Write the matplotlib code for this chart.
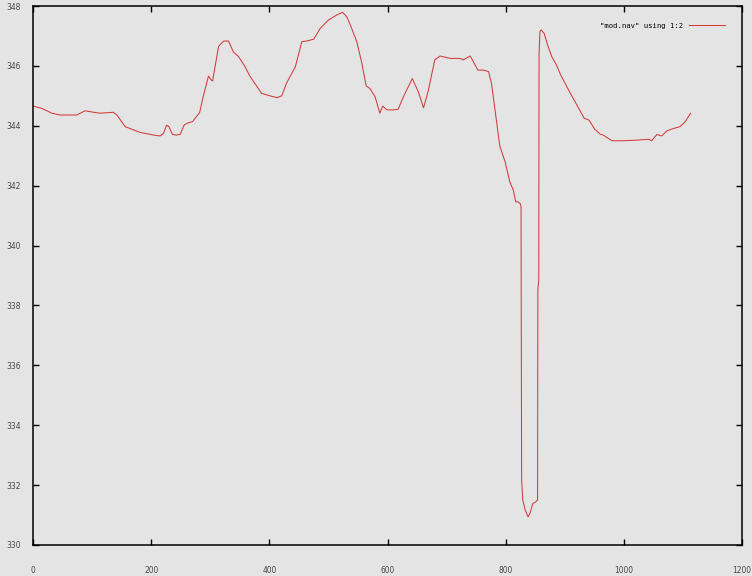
import matplotlib.pyplot as plt

x = [0, 15, 32, 46, 74, 88, 97, 113, 136, 142, 156, 164, 181, 204, 215, 221, 226, 230, 236, 243,
     249, 256, 263, 270, 282, 288, 297, 302, 304, 314, 317, 323, 331, 339, 348, 359, 367, 387, 401, 413,
     421, 429, 438, 444, 455, 463, 475, 486, 500, 514, 524, 531, 537, 548, 556, 564, 570, 579, 587, 592,
     599, 610, 618, 627, 642, 652, 661, 669, 680, 689, 706, 723, 728, 740, 753, 762, 771, 776, 782, 790,
     799, 807, 813, 817, 821, 825, 826, 827, 829, 833, 838, 841, 846, 851, 854, 854.5, 856, 856.5, 858, 860,
     865, 872, 878, 886, 893, 908, 922, 933, 941, 951, 960, 965, 980, 999, 1022, 1042, 1047, 1056, 1064, 1073,
     1084, 1095, 1104, 1113]
y = [344.66, 344.58, 344.42, 344.36, 344.36, 344.50, 344.47, 344.42, 344.45, 344.36, 343.97, 343.91, 343.78, 343.69, 343.66, 343.75, 344.02, 343.97, 343.71, 343.69,
     343.71, 344.03, 344.10, 344.14, 344.44, 344.97, 345.66, 345.52, 345.50, 346.64, 346.72, 346.83, 346.83, 346.47, 346.31, 345.97, 345.66, 345.08, 345.00, 344.94,
     345.00, 345.42, 345.75, 345.97, 346.81, 346.83, 346.89, 347.25, 347.53, 347.70, 347.79, 347.64, 347.37, 346.81, 346.14, 345.33, 345.25, 344.97, 344.42, 344.66,
     344.53, 344.53, 344.55, 344.97, 345.58, 345.14, 344.60, 345.17, 346.20, 346.33, 346.25, 346.25, 346.20, 346.33, 345.86, 345.86, 345.81, 345.42, 344.53, 343.33,
     342.80, 342.13, 341.85, 341.46, 341.46, 341.39, 341.30, 332.17, 331.50, 331.17, 330.94, 331.05, 331.39, 331.44, 331.50, 338.51, 338.85, 346.36, 347.14, 347.20,
     347.09, 346.64, 346.31, 346.03, 345.70, 345.14, 344.64, 344.25, 344.19, 343.88, 343.72, 343.69, 343.50, 343.50, 343.52, 343.55, 343.50, 343.71, 343.66, 343.83,
     343.91, 343.97, 344.14, 344.42]
xticks = [0, 200, 400, 600, 800, 1000, 1200]
yticks = [330, 332, 334, 336, 338, 340, 342, 344, 346, 348]

bg = '#e4e4e4'
fig = plt.figure(figsize=(7.52, 5.76), dpi=100, facecolor=bg)
ax = fig.add_axes([33/752, 31/576, 709/752, 539/576], facecolor=bg)

ax.plot(x, y, color='#d23b3b', lw=0.75, label='"mod.nav" using 1:2')

ax.set_xlim(0, 1200)
ax.set_ylim(330, 348)
ax.set_xticks(xticks)
ax.set_yticks(yticks)
for s in ax.spines.values():
    s.set_linewidth(1.1)
    s.set_color('black')
ax.tick_params(direction='in', length=4.5, width=1, top=True, right=True,
               labelsize=6, labelcolor='#484848')
ax.tick_params(axis='x', pad=15)
ax.tick_params(axis='y', pad=9)
for t in ax.get_xticklabels() + ax.get_yticklabels():
    t.set_fontstretch('condensed')

ax.legend(loc='upper right', frameon=False, markerfirst=False, handlelength=5.1,
          handletextpad=0.8, borderpad=0, borderaxespad=2.3,
          prop={'family': 'DejaVu Sans Mono', 'size': 5.2})

plt.savefig('out.png', dpi=100, facecolor=bg)
